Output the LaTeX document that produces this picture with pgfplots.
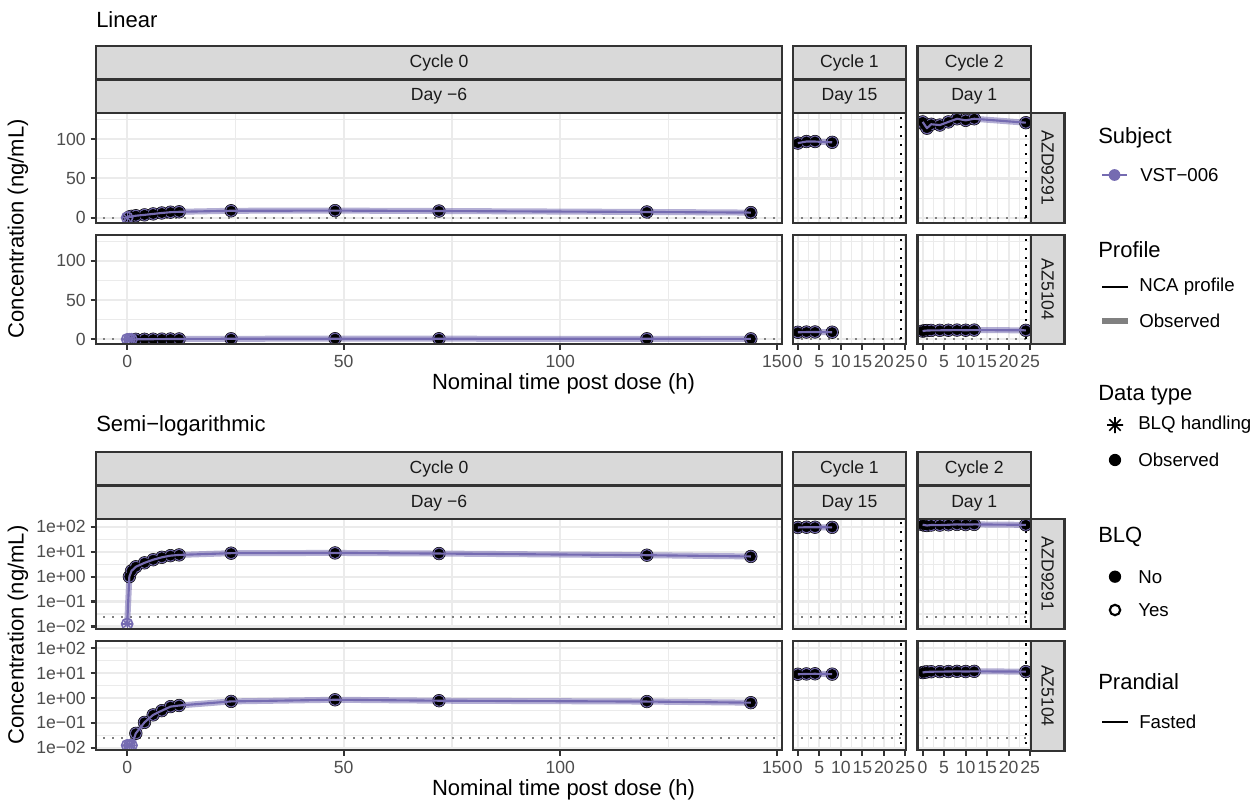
\documentclass[border=0pt]{standalone}
\usepackage{fontspec}
\setmainfont{Liberation Sans}
\usepackage{pgfplots}
\usepackage{pgfplotstable}
\pgfplotsset{compat=1.18}

\definecolor{g10}{HTML}{1A1A1A}
\definecolor{g20}{HTML}{333333}
\definecolor{g30}{HTML}{4D4D4D}
\definecolor{g50}{HTML}{7F7F7F}
\definecolor{g85}{HTML}{D9D9D9}
\definecolor{g92}{HTML}{EBEBEB}
\definecolor{subj}{HTML}{756BB1}

\newcommand{\ticksz}{\fontsize{13.2}{15.8}\selectfont}
\newcommand{\legsz}{\fontsize{14}{16.8}\selectfont}
\newcommand{\titlesz}{\fontsize{16.5}{19.8}\selectfont}

% t = nominal time (h), c = concentration (ng/mL), b = 1 if below LLOQ (imputed)
% Cycle 0, Day -6
\pgfplotstableread{
t c b
0 0.0125 1
0.5 1.0 0
1 1.7 0
2 2.5 0
4 3.6 0
6 4.8 0
8 6.0 0
10 7.0 0
12 7.5 0
24 8.8 0
48 9.0 0
72 8.5 0
120 7.3 0
144 6.5 0
}\azdA
\pgfplotstableread{
t c b
0 0.0125 1
0.5 0.0125 1
1 0.0125 1
2 0.038 0
4 0.105 0
6 0.21 0
8 0.31 0
10 0.45 0
12 0.50 0
24 0.73 0
48 0.85 0
72 0.78 0
120 0.72 0
144 0.65 0
}\azbA
% Cycle 1, Day 15
\pgfplotstableread{
t c b
0 95 0
2 97 0
4 97 0
8 96 0
}\azdB
\pgfplotstableread{
t c b
0 9.0 0
2 9.3 0
4 9.4 0
8 9.1 0
}\azbB
% Cycle 2, Day 1
\pgfplotstableread{
t c b
0 122 0
0.5 118 0
1 114 0
2 119 0
4 118 0
6 122 0
8 126 0
10 124 0
12 126 0
24 121 0
}\azdC
\pgfplotstableread{
t c b
0 10.5 0
0.5 11.0 0
1 11.2 0
2 11.4 0
4 11.5 0
6 11.6 0
8 11.8 0
10 11.6 0
12 11.8 0
24 11.5 0
}\azbC

\pgfplotsset{
  panel/.style={
    scale only axis, anchor=north west, height=82.25pt,
    axis line style={draw=g20, line width=1.6pt},
    grid=both,
    major grid style={draw=g92, line width=1.6pt},
    minor grid style={draw=g92, line width=0.8pt},
    tick align=outside, xtick pos=left, ytick pos=left,
    major tick length=4.1pt, minor tick length=0pt,
    tick style={draw=g20, line width=1.6pt},
    tick label style={font=\ticksz, text=g30, inner sep=0pt},
    xticklabel style={anchor=north},
    yticklabel style={anchor=east},
    xticklabel shift=4.2pt, yticklabel shift=3.4pt,
    clip marker paths=true,
  },
  c0/.style={width=514.5pt, xmin=-7.2, xmax=151.2, xtick={0,50,100,150}, minor xtick={25,75,125}},
  c12/.style={width=85.1pt, xmin=-1.2, xmax=25.2, xtick={0,5,10,15,20,25}, minor xtick={2.5,7.5,12.5,17.5,22.5}},
  lin/.style={ymin=-6.35, ymax=133.35, ytick={0,50,100}, minor ytick={25,75,125}},
  logy/.style={ymin=0.00789, ymax=201.4, ytick={0.01,0.1,1,10,100},
    minor ytick={0.0316228,0.316228,3.16228,31.6228}},
  noxlab/.style={xmajorticks=false, xticklabels={}},
  noylab/.style={ymajorticks=false, yticklabels={}},
  xlab0/.style={xticklabels={0,50,100,150}},
  xlab12/.style={xticklabels={0,5,10,15,20,25}},
  ylablin/.style={yticklabels={0,50,100}},
  ylablog/.style={yticklabels={1e−02,1e−01,1e+00,1e+01,1e+02}},
  lloq/.style={no markers, draw=g50, line width=1.5pt, dash pattern=on 1.5pt off 5.2pt},
  tau/.style={no markers, draw=black, line width=1.8pt, dash pattern=on 1.8pt off 4.9pt},
  band/.style={no markers, draw=subj, opacity=0.55, line width=4.5pt, line join=round, line cap=round},
  nca/.style={no markers, draw=subj, line width=1.6pt, line join=round},
  ring/.style={only marks, mark=*, mark size=4.75pt, mark options={fill=subj, draw=none}},
  core/.style={only marks, mark=*, mark size=3.5pt, mark options={fill=black, draw=none}},
  blqo/.style={only marks, mark=o, mark size=4.2pt, mark options={draw=subj, line width=1.2pt, fill=none}},
  blqp/.style={only marks, mark=+, mark size=4.6pt, mark options={draw=subj, line width=1pt}},
  blqx/.style={only marks, mark=x, mark size=3.25pt, mark options={draw=subj, line width=1pt}},
}

% one concentration-time profile: band, observed points, NCA line
\newcommand{\profile}[1]{%
  \addplot[band] table[x=t, y=c]{#1};
  \addplot[ring, restrict expr to domain={\thisrow{b}}{-0.5:0.5}] table[x=t, y=c]{#1};
  \addplot[core, restrict expr to domain={\thisrow{b}}{-0.5:0.5}] table[x=t, y=c]{#1};
  \addplot[nca] table[x=t, y=c]{#1};
}
% imputed below-LLOQ samples
\newcommand{\blq}[1]{%
  \addplot[blqo, restrict expr to domain={\thisrow{b}}{0.5:1.5}] table[x=t, y=c]{#1};
  \addplot[blqp, restrict expr to domain={\thisrow{b}}{0.5:1.5}] table[x=t, y=c]{#1};
  \addplot[blqx, restrict expr to domain={\thisrow{b}}{0.5:1.5}] table[x=t, y=c]{#1};
}
\newcommand{\lloqline}{\addplot[lloq] coordinates {(-20,0.025) (200,0.025)};}
\newcommand{\tauline}{\addplot[tau] coordinates {(24,0.0001) (24,1000)};}

\begin{document}
\begin{tikzpicture}
\useasboundingbox (0,0) rectangle (942pt,-602.25pt);

% ---------------- Linear ----------------
\begin{axis}[panel, c0, lin, noxlab, ylablin, at={(72pt,-84.75pt)}, name=a1]
\lloqline \profile{\azdA} \blq{\azdA}
\end{axis}
\begin{axis}[panel, c12, lin, noxlab, noylab, at={(594.5pt,-84.75pt)}, name=a2]
\lloqline \tauline \profile{\azdB}
\end{axis}
\begin{axis}[panel, c12, lin, noxlab, noylab, at={(688.1pt,-84.75pt)}, name=a3]
\lloqline \tauline \profile{\azdC}
\end{axis}
\begin{axis}[panel, c0, lin, xlab0, ylablin, at={(72pt,-176pt)}, name=a4]
\lloqline \profile{\azbA} \blq{\azbA}
\end{axis}
\begin{axis}[panel, c12, lin, xlab12, noylab, at={(594.5pt,-176pt)}, name=a5]
\lloqline \tauline \profile{\azbB}
\end{axis}
\begin{axis}[panel, c12, lin, xlab12, noylab, at={(688.1pt,-176pt)}, name=a6]
\lloqline \tauline \profile{\azbC}
\end{axis}

% ---------------- Semi-logarithmic ----------------
\begin{axis}[ymode=log, panel, c0, logy, noxlab, ylablog, at={(72pt,-389.5pt)}, name=a7]
\lloqline \profile{\azdA} \blq{\azdA}
\end{axis}
\begin{axis}[ymode=log, panel, c12, logy, noxlab, noylab, at={(594.5pt,-389.5pt)}, name=a8]
\lloqline \tauline \profile{\azdB}
\end{axis}
\begin{axis}[ymode=log, panel, c12, logy, noxlab, noylab, at={(688.1pt,-389.5pt)}, name=a9]
\lloqline \tauline \profile{\azdC}
\end{axis}
\begin{axis}[ymode=log, panel, c0, logy, xlab0, ylablog, at={(72pt,-480.5pt)}, name=a10]
\lloqline \profile{\azbA} \blq{\azbA}
\end{axis}
\begin{axis}[ymode=log, panel, c12, logy, xlab12, noylab, at={(594.5pt,-480.5pt)}, name=a11]
\lloqline \tauline \profile{\azbB}
\end{axis}
\begin{axis}[ymode=log, panel, c12, logy, xlab12, noylab, at={(688.1pt,-480.5pt)}, name=a12]
\lloqline \tauline \profile{\azbC}
\end{axis}

% panel borders on top of the data
\foreach \a in {a1,a2,a3,a4,a5,a6,a7,a8,a9,a10,a11,a12}
  \draw[g20, line width=1.6pt] (\a.south west) rectangle (\a.north east);

\begin{scope}[x=0.75pt, y=-0.75pt]
  \tikzset{strip/.style={draw=g20, fill=g85, line width=1.6pt},
           st/.style={font=\ticksz, text=g10}}
  % strips and titles of both sections
  \foreach \dy/\ttl in {0/Linear, 406.3/Semi−logarithmic} {
    \node[anchor=west, font=\titlesz, inner sep=0pt] at (96,20+\dy) {\ttl};
    \draw[strip] (96,46+\dy) rectangle (782,79+\dy);
    \draw[strip] (792.7,46+\dy) rectangle (906.2,79+\dy);
    \draw[strip] (917.5,46+\dy) rectangle (1031,79+\dy);
    \draw[strip] (96,80+\dy) rectangle (782,113+\dy);
    \draw[strip] (792.7,80+\dy) rectangle (906.2,113+\dy);
    \draw[strip] (917.5,80+\dy) rectangle (1031,113+\dy);
    \node[st] at (439,62.5+\dy) {Cycle 0};
    \node[st] at (849.45,62.5+\dy) {Cycle 1};
    \node[st] at (974.25,62.5+\dy) {Cycle 2};
    \node[st] at (439,96.5+\dy) {Day −6};
    \node[st] at (849.45,96.5+\dy) {Day 15};
    \node[st] at (974.25,96.5+\dy) {Day 1};
    \draw[strip] (1031,113+\dy) rectangle (1064.5,222.7+\dy);
    \draw[strip] (1031,234.7+\dy) rectangle (1064.5,344.4+\dy);
    \node[st, rotate=-90] at (1047.75,167.85+\dy) {AZD9291};
    \node[st, rotate=-90] at (1047.75,289.55+\dy) {AZ5104};
    \node[font=\titlesz, rotate=90] at (18,228.7+\dy) {Concentration (ng/mL)};
    \node[font=\titlesz] at (563.5,384+\dy) {Nominal time post dose (h)};
  }

  % legends
  \tikzset{lt/.style={anchor=west, font=\titlesz, inner sep=0pt},
           le/.style={anchor=west, font=\legsz, inner sep=0pt}}
  \node[lt] at (1098,138) {Subject};
  \draw[subj, line width=1.6pt] (1102,175) -- (1127,175);
  \fill[subj] (1114.5,175) circle[radius=4.4pt];
  \node[le] at (1140,175) {VST−006};

  \node[lt] at (1098,250) {Profile};
  \draw[black, line width=1.6pt] (1102,286.7) -- (1128,286.7);
  \node[le] at (1139,286.7) {NCA profile};
  \draw[black!50, line width=4.5pt] (1102,320.7) -- (1128,320.7);
  \node[le] at (1139,320.7) {Observed};

  \node[lt] at (1098,395) {Data type};
  \draw[black, line width=1.3pt] (1107,425) -- (1123,425) (1115,417) -- (1115,433)
     (1109.3,419.3) -- (1120.7,430.7) (1109.3,430.7) -- (1120.7,419.3);
  \node[le] at (1138,425) {BLQ handling};
  \fill[black] (1115,460) circle[radius=4.6pt];
  \node[le] at (1138,460) {Observed};

  \node[lt] at (1098,536.7) {BLQ};
  \fill[black] (1115,576.7) circle[radius=4.6pt];
  \node[le] at (1138,576.7) {No};
  \draw[black, line width=1.6pt] (1115,610) circle[radius=3.9pt];
  \node[le] at (1138,610) {Yes};

  \node[lt] at (1098,681.7) {Prandial};
  \draw[black, line width=1.6pt] (1102,721.7) -- (1128,721.7);
  \node[le] at (1139,721.7) {Fasted};
\end{scope}
\end{tikzpicture}
\end{document}
